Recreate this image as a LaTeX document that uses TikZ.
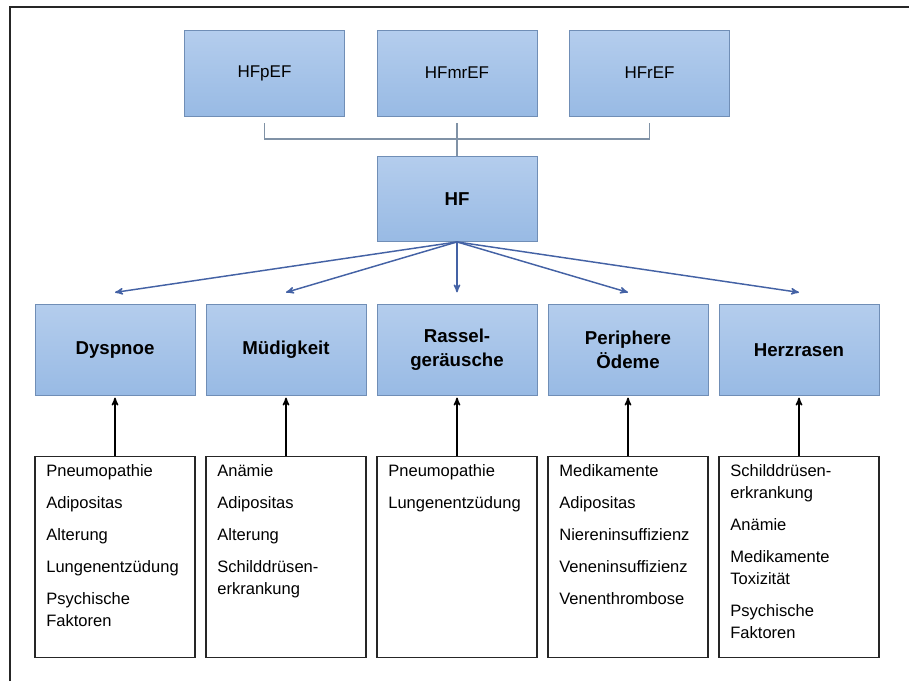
\documentclass[tikz,border=0pt]{standalone}
\usepackage{fontspec}
\setmainfont{Liberation Sans}
\usetikzlibrary{arrows,positioning}
\definecolor{boxtop}{RGB}{180,205,237}
\definecolor{boxbot}{RGB}{152,186,228}
\definecolor{boxline}{RGB}{112,142,182}
\definecolor{arrowblue}{RGB}{68,98,165}
\definecolor{bracketgray}{RGB}{128,146,166}
\tikzset{
        >=stealth', % arrow heads
        node distance=24pt, % gap between the subtype boxes
    }
\tikzstyle{typebox}=[draw=boxline,top color=boxtop,bottom color=boxbot,minimum width=120pt,minimum height=64pt,inner sep=0pt,font=\fontsize{12.75}{15}\selectfont]
\tikzstyle{symbox}=[typebox,minimum height=68pt,align=center,font=\fontsize{14}{18}\selectfont\bfseries]
\tikzstyle{causebox}=[draw=black!85,fill=white,line width=0.9pt,minimum width=120pt,inner xsep=8.25pt,inner ysep=6pt]
\newcommand{\causelist}[1]{\parbox[t][139pt][t]{103pt}{\fontsize{12.4}{16.5}\selectfont\raggedright #1}}

\begin{document}
\begin{tikzpicture}[x=0.75pt,y=0.75pt,
    level 1/.style={sibling distance=128.25pt,level distance=113.25pt,
        edge from parent/.style={draw=arrowblue,line width=1.1pt,->},
        edge from parent path={(\tikzparentnode.south) -- ([yshift=9pt]\tikzchildnode.north)}},
    level 2/.style={level distance=155.25pt,
        edge from parent/.style={draw=black,line width=1.1pt,->},
        edge from parent path={(\tikzchildnode.north) -- ([yshift=-1.5pt]\tikzparentnode.south)}}]
    \useasboundingbox (0,0) rectangle (909,681);
    \draw[line width=1.5pt,black!85] (10,0) -- (10,674) -- (909,674);
    \node[typebox,font=\fontsize{14}{16}\selectfont\bfseries] (hf) at (457,482) {HF}
        child {
            node[symbox] (dyspnoe) {Dyspnoe}
            child { node[causebox] (dyspnoe causes) {\causelist{Pneumopathie\\[7.5pt] Adipositas\\[7.5pt] Alterung\\[7.5pt] Lungenentzüdung\\[7.5pt] Psychische\\ Faktoren}} }
        } child {
            node[symbox] (muedigkeit) {Müdigkeit}
            child { node[causebox] (muedigkeit causes) {\causelist{Anämie\\[7.5pt] Adipositas\\[7.5pt] Alterung\\[7.5pt] Schilddrüsen-\\ erkrankung}} }
        } child {
            node[symbox] (rassel) {Rassel-\\geräusche}
            child { node[causebox] (rassel causes) {\causelist{Pneumopathie\\[7.5pt] Lungenentzüdung}} }
        } child {
            node[symbox] (oedeme) {Periphere\\Ödeme}
            child { node[causebox] (oedeme causes) {\causelist{Medikamente\\[7.5pt] Adipositas\\[7.5pt] Niereninsuffizienz\\[7.5pt] Veneninsuffizienz\\[7.5pt] Venenthrombose}} }
        } child {
            node[symbox] (herzrasen) {Herzrasen}
            child { node[causebox] (herzrasen causes) {\causelist{Schilddrüsen-\\ erkrankung\\[7.5pt] Anämie\\[7.5pt] Medikamente\\ Toxizität\\[7.5pt] Psychische\\ Faktoren}} }
        }
    ;
    % subtypes of HF
    \node[typebox,above=30pt of hf] (hfmref) {HFmrEF};
    \node[typebox,left=of hfmref] (hfpef) {HFpEF};
    \node[typebox,right=of hfmref] (hfref) {HFrEF};
    \draw[bracketgray,line width=0.9pt] ([yshift=-5.25pt]hfpef.south) |- ([yshift=-17.25pt]hfmref.south) -| ([yshift=-5.25pt]hfref.south);
    \draw[bracketgray,line width=0.9pt] ([yshift=-5.25pt]hfmref.south) -- (hf.north);
\end{tikzpicture}
\end{document}
